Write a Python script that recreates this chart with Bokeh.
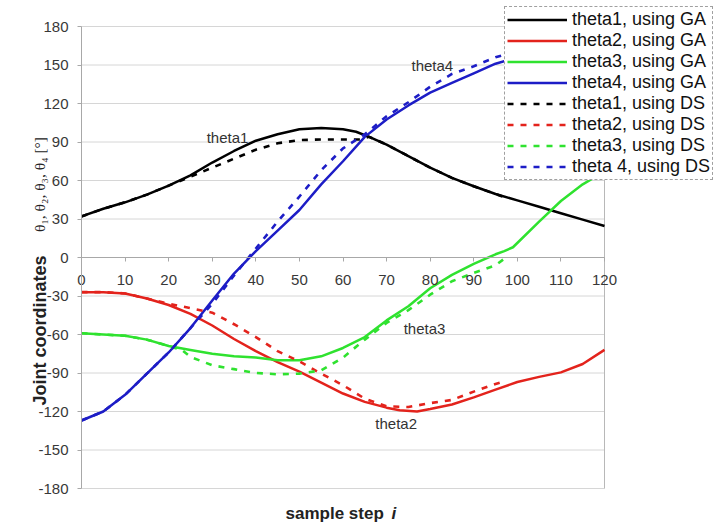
from math import pi
from bokeh.plotting import figure
from bokeh.models import Range1d, FixedTicker, Legend, LegendItem, Label, ColumnDataSource, PrintfTickFormatter
from bokeh.core.properties import value
from bokeh.embed import file_html
from bokeh.resources import INLINE

# ---------------- data ----------------
x_ticks = list(range(0, 121, 10))
y_ticks = list(range(-180, 181, 30))

t1_ga_x = [0, 5, 10, 15, 20, 25, 30, 35, 40, 45, 50, 55, 60, 63, 66, 70, 75, 80, 85, 90, 95, 100, 105, 110, 115, 120]
t1_ga_y = [32, 38, 43, 49, 56, 64, 74, 83, 91, 96, 100, 101, 100, 98, 94, 88, 79, 70, 62, 55.5, 49.5, 44.5, 39.5, 34.5, 29.5, 24.5]

t2_ga_x = [0, 5, 10, 15, 20, 25, 30, 35, 40, 45, 50, 55, 60, 65, 70, 73, 77, 80, 85, 90, 95, 100, 105, 110, 115, 120]
t2_ga_y = [-27, -27, -28, -32, -37, -44, -53, -63.5, -73, -81.5, -89, -97.5, -106, -112.5, -117, -119, -120, -118, -114.5, -109, -103, -97, -93, -89.5, -83, -72]

t3_ga_x = [0, 5, 10, 15, 20, 25, 30, 35, 40, 45, 50, 55, 60, 65, 70, 75, 80, 85, 90, 95, 97, 99, 105, 110, 115, 120]
t3_ga_y = [-59, -60, -61, -64, -69, -72, -75, -77, -78, -80, -80, -77, -70.5, -62, -49, -38, -24, -13.5, -5, 2.5, 5, 8, 28, 44, 57, 67]

t4_ga_x = [0, 5, 10, 15, 20, 25, 30, 35, 40, 45, 50, 55, 60, 65, 70, 75, 80, 85, 90, 95, 100, 110, 120]
t4_ga_y = [-127, -120, -107, -90.5, -74, -55, -33.5, -12.5, 5, 21, 37, 57, 75, 94, 107.5, 118.5, 128.5, 136, 143.5, 151, 156, 165, 172]

t1_ds_x = [0, 5, 10, 15, 20, 25, 30, 35, 40, 45, 50, 55, 60, 64, 66, 70, 75, 80, 85, 90, 95, 97]
t1_ds_y = [32, 38, 43, 49, 56, 63, 70, 77, 84, 89, 91.5, 92, 92, 92, 94, 88, 79, 70, 62, 55.5, 49.5, 47]

t2_ds_x = [0, 5, 10, 15, 20, 25, 30, 35, 40, 45, 50, 55, 60, 65, 70, 75, 80, 85, 90, 95, 97]
t2_ds_y = [-27, -27, -28, -32, -36, -39.5, -43, -52, -62, -73, -81, -90.5, -99.5, -110, -116, -116.5, -113.5, -111, -104.5, -98.5, -96.5]

t3_ds_x = [0, 5, 10, 15, 20, 23, 25, 30, 35, 40, 45, 50, 55, 60, 65, 70, 75, 80, 85, 90, 95, 97]
t3_ds_y = [-59, -60, -61, -64, -69, -72, -77.5, -84, -87, -90, -91, -90.5, -88, -78, -64, -51, -41, -29, -18.5, -12, -6, -1]

t4_ds_x = [0, 5, 10, 15, 20, 25, 30, 35, 40, 45, 50, 55, 60, 65, 70, 75, 80, 85, 90, 95, 97]
t4_ds_y = [-127, -120, -107, -90.5, -74, -55, -36, -14, 7, 28, 47.5, 68, 85, 96, 110, 121, 133, 143, 149, 156, 158]

legend_labels = ["theta1, using GA", "theta2, using GA", "theta3, using GA", "theta4, using GA",
                 "theta1, using DS", "theta2, using DS", "theta3, using DS", "theta 4, using DS"]

curve_names = ["theta1", "theta4", "theta3", "theta2"]
curve_name_x = [33.5, 80.5, 78.7, 72.2]
curve_name_y = [93.5, 150, -55.3, -129.4]

colors = ["#000000", "#e3231c", "#2fe22f", "#1d1dc6"]

# ---------------- layout constants (pixels) ----------------
W, H = 715, 528
PX_LEFT, PX_RIGHT = 81, 604     # pixel columns of x = 0 and x = 120
PX_TOP, PX_BOTTOM = 26, 488     # pixel rows of y = 180 and y = -180

x_scale = (PX_RIGHT - PX_LEFT) / (x_ticks[-1] - x_ticks[0])
y_scale = (PX_BOTTOM - PX_TOP) / (y_ticks[-1] - y_ticks[0])
x_start = x_ticks[0] - PX_LEFT / x_scale
x_end = x_ticks[0] + (W - PX_LEFT) / x_scale
y_end = y_ticks[-1] + PX_TOP / y_scale
y_start = y_ticks[0] - (H - PX_BOTTOM) / y_scale

# ---------------- figure ----------------
p = figure(width=W, height=H, output_backend="svg", toolbar_location=None,
           x_range=Range1d(x_start, x_end), y_range=Range1d(y_start, y_end),
           min_border_left=0, min_border_right=0, min_border_top=0, min_border_bottom=0)
p.background_fill_color = "white"
p.border_fill_color = "white"
p.outline_line_color = None
p.xgrid.visible = False
p.ygrid.visible = False

# horizontal grid lines and right border of the plot area
p.segment(x0=[x_ticks[0]] * len(y_ticks), x1=[x_ticks[-1]] * len(y_ticks), y0=y_ticks, y1=y_ticks,
          line_color="#d6d6d6", line_width=1)
p.segment(x0=[x_ticks[-1]], x1=[x_ticks[-1]], y0=[y_ticks[0]], y1=[y_ticks[-1]],
          line_color="#b8b8b8", line_width=1)

# x axis drawn at y = 0
xa = p.xaxis[0]
xa.fixed_location = 0
xa.bounds = (x_ticks[0], x_ticks[-1])
xa.ticker = FixedTicker(ticks=x_ticks)
xa.formatter = PrintfTickFormatter(format="%d")
xa.axis_line_color = "#a8a8a8"
xa.axis_line_width = 1
xa.major_tick_line_color = "#a8a8a8"
xa.major_tick_out = 4
xa.major_tick_in = 0
xa.minor_tick_line_color = None
xa.major_label_standoff = 13
xa.major_label_text_font = "Liberation Sans"
xa.major_label_text_font_size = "15px"
xa.major_label_text_color = "#383838"

# y axis drawn at x = 0
ya = p.yaxis[0]
ya.fixed_location = 0
ya.bounds = (y_ticks[0], y_ticks[-1])
ya.ticker = FixedTicker(ticks=y_ticks)
ya.formatter = PrintfTickFormatter(format="%d")
ya.axis_line_color = "#a8a8a8"
ya.axis_line_width = 1
ya.major_tick_line_color = "#a8a8a8"
ya.major_tick_out = 4
ya.major_tick_in = 0
ya.minor_tick_line_color = None
ya.major_label_standoff = 9
ya.major_label_text_font = "Liberation Sans"
ya.major_label_text_font_size = "15px"
ya.major_label_text_color = "#383838"

ga_series = [(t1_ga_x, t1_ga_y), (t2_ga_x, t2_ga_y), (t3_ga_x, t3_ga_y), (t4_ga_x, t4_ga_y)]
ds_series = [(t1_ds_x, t1_ds_y), (t2_ds_x, t2_ds_y), (t3_ds_x, t3_ds_y), (t4_ds_x, t4_ds_y)]

ga_renderers = []
for (xs, ys), c in zip(ga_series, colors):
    ga_renderers.append(p.line(xs, ys, line_color=c, line_width=2.5))
ds_renderers = []
for (xs, ys), c in zip(ds_series, colors):
    ds_renderers.append(p.line(xs, ys, line_color=c, line_width=2.6, line_dash="6 7"))

# curve labels
src = ColumnDataSource(dict(x=curve_name_x, y=curve_name_y, t=curve_names))
p.text(x="x", y="y", text="t", source=src, text_font=value("Liberation Sans"),
       text_font_size="15px", text_color="#333333", text_align="center", text_baseline="middle")

# legend (position in pixels from the bottom-left corner of the plot area)
items = [LegendItem(label=lab, renderers=[r]) for lab, r in zip(legend_labels, ga_renderers + ds_renderers)]
legend = Legend(items=items, location=(504, H - 180), orientation="vertical",
                label_text_font="Liberation Sans", label_text_font_size="18px", label_text_color="#111111",
                glyph_width=60, glyph_height=21, label_height=21, label_standoff=5,
                spacing=0, padding=2, margin=0,
                border_line_color="#444444", border_line_width=1.5, border_line_dash="7 5",
                background_fill_color="white", background_fill_alpha=1.0)
p.add_layout(legend, "center")

# axis titles
p.add_layout(Label(x=39, y=H - 330, x_units="screen", y_units="screen", text="Joint coordinates",
                   angle=pi / 2, text_align="center", text_baseline="middle",
                   text_font="Liberation Sans", text_font_style="bold", text_font_size="18px",
                   text_color="#222222"))
p.add_layout(Label(x=39, y=H - 184, x_units="screen", y_units="screen", text="θ₁, θ₂, θ₃, θ₄ [°]",
                   angle=pi / 2, text_align="center", text_baseline="middle",
                   text_font="Liberation Serif", text_font_size="15.5px", text_color="#222222"))
p.add_layout(Label(x=285, y=H - 513, x_units="screen", y_units="screen", text="sample step",
                   text_align="left", text_baseline="middle",
                   text_font="Liberation Sans", text_font_style="bold", text_font_size="17px",
                   text_color="#222222"))
p.add_layout(Label(x=391, y=H - 513, x_units="screen", y_units="screen", text="i",
                   text_align="left", text_baseline="middle",
                   text_font="Liberation Sans", text_font_style="bold italic", text_font_size="17px",
                   text_color="#222222"))

open("out.html", "w").write(file_html(p, INLINE))
